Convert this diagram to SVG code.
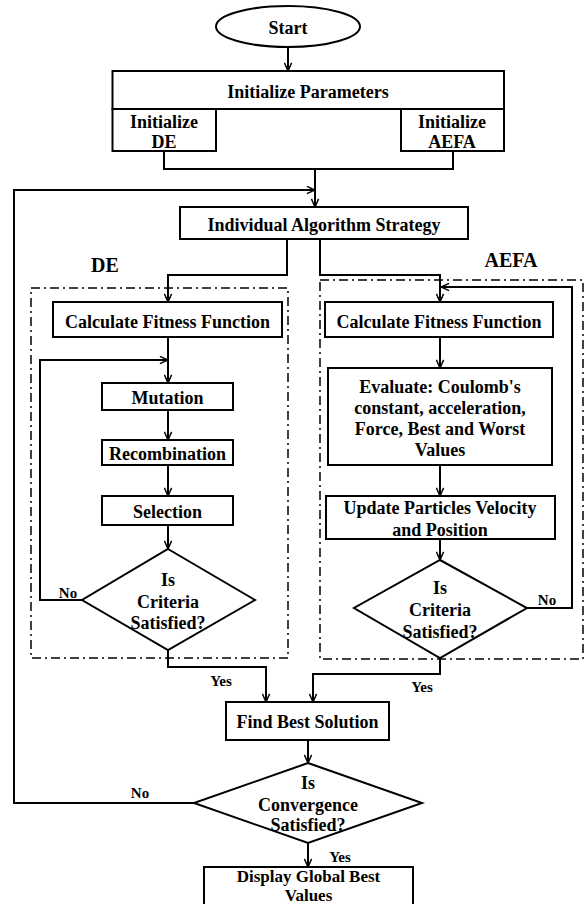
<svg xmlns="http://www.w3.org/2000/svg" width="585" height="904" viewBox="0 0 585 904">
<style>
text{font-family:"Liberation Serif","Times New Roman",serif;font-weight:bold;font-size:18px;text-anchor:middle;fill:#000}
.lbl{font-size:20px}
.yn{font-size:15px}
.sm{font-size:17px}
.box{fill:#fff;stroke:#000;stroke-width:2}
.dash{fill:none;stroke:#000;stroke-width:1.5;stroke-dasharray:9,4,2,4}
.ln{fill:none;stroke:#000;stroke-width:2}
.arr{fill:none;stroke:#000;stroke-width:2;marker-end:url(#ah)}
</style>
<defs>
<marker id="ah" viewBox="0 0 10 10" refX="10" refY="5" markerWidth="9" markerHeight="9" markerUnits="userSpaceOnUse" orient="auto">
<path d="M1,1 L10,5 L1,9" fill="none" stroke="#000" stroke-width="1.6"/>
</marker>
</defs>
<rect width="585" height="904" fill="#fff"/>
<g id="groups">
<rect class="dash" x="31" y="288" width="257" height="370"/>
<rect class="dash" x="320" y="280" width="263" height="379"/>
<text class="lbl" x="105" y="272">DE</text>
<text class="lbl" x="511" y="267">AEFA</text>
</g>
<g id="connectors">
<line class="arr" x1="288" y1="47" x2="288" y2="71"/>
<polyline class="ln" points="164,151 164,169 453,169 453,151"/>
<line class="arr" x1="315" y1="169" x2="315" y2="207"/>
<polyline class="arr" points="194,803 14,803 14,190 315,190"/>
<polyline class="arr" points="287,239 287,275 168,275 168,302"/>
<polyline class="arr" points="320,239 320,275 440,275 440,302"/>
<line class="arr" x1="168" y1="337" x2="168" y2="383"/>
<polyline class="arr" points="82,600 40,600 40,360 168,360"/>
<line class="arr" x1="168" y1="410" x2="168" y2="440"/>
<line class="arr" x1="168" y1="465" x2="168" y2="496"/>
<line class="arr" x1="168" y1="525" x2="168" y2="549"/>
<line class="arr" x1="440" y1="337" x2="440" y2="368"/>
<line class="arr" x1="440" y1="465" x2="440" y2="496"/>
<line class="arr" x1="440" y1="539" x2="440" y2="560"/>
<polyline class="arr" points="527,608 572,608 572,287 441,287"/>
<polyline class="arr" points="168,650 168,667 266,667 266,702"/>
<polyline class="arr" points="440,658 440,674 313,674 313,702"/>
<line class="arr" x1="308" y1="740" x2="308" y2="763"/>
<line class="arr" x1="308" y1="843" x2="308" y2="867"/>
<text class="yn" x="68" y="598">No</text>
<text class="yn" x="547" y="605">No</text>
<text class="yn" x="221" y="686">Yes</text>
<text class="yn" x="422" y="692">Yes</text>
<text class="yn" x="140" y="798">No</text>
<text class="yn" x="340" y="862">Yes</text>
</g>
<g id="start">
<ellipse class="box" cx="288" cy="26.5" rx="72" ry="20.5"/>
<text x="288" y="34">Start</text>
</g>
<g id="init-params">
<rect class="box" x="112.5" y="71" width="391.5" height="38"/>
<text x="308" y="98">Initialize Parameters</text>
</g>
<g id="init-de">
<rect class="box" x="112.5" y="109" width="103.5" height="42"/>
<text x="164" y="128">Initialize</text>
<text x="164" y="148">DE</text>
</g>
<g id="init-aefa">
<rect class="box" x="401" y="109" width="103" height="42"/>
<text x="452" y="128">Initialize</text>
<text x="452" y="148">AEFA</text>
</g>
<g id="strategy">
<rect class="box" x="180" y="207" width="288" height="32"/>
<text x="324" y="231">Individual Algorithm Strategy</text>
</g>
<g id="de-fitness">
<rect class="box" x="53" y="302" width="229" height="35"/>
<text x="167.5" y="328">Calculate Fitness Function</text>
</g>
<g id="mutation">
<rect class="box" x="102" y="383" width="131" height="27"/>
<text x="167.5" y="404">Mutation</text>
</g>
<g id="recombination">
<rect class="box" x="102" y="440" width="131" height="25"/>
<text x="167.5" y="460">Recombination</text>
</g>
<g id="selection">
<rect class="box" x="102" y="496" width="131" height="29"/>
<text x="167.5" y="518">Selection</text>
</g>
<g id="de-criteria">
<polygon class="box" points="168,549 255,600 168,650 82,600"/>
<text x="168" y="586">Is</text>
<text x="168" y="608">Criteria</text>
<text x="168" y="629">Satisfied?</text>
</g>
<g id="aefa-fitness">
<rect class="box" x="325" y="302" width="228" height="35"/>
<text x="439" y="328">Calculate Fitness Function</text>
</g>
<g id="evaluate">
<rect class="box" x="328" y="368" width="224" height="97"/>
<text x="440" y="393">Evaluate: Coulomb's</text>
<text x="440" y="414">constant, acceleration,</text>
<text x="440" y="435">Force, Best and Worst</text>
<text x="440" y="456">Values</text>
</g>
<g id="update">
<rect class="box" x="326" y="496" width="229" height="43"/>
<text x="440" y="514">Update Particles Velocity</text>
<text x="440" y="536">and Position</text>
</g>
<g id="aefa-criteria">
<polygon class="box" points="440,560 527,608 440,658 354,608"/>
<text x="440" y="594">Is</text>
<text x="440" y="616">Criteria</text>
<text x="440" y="638">Satisfied?</text>
</g>
<g id="find-best">
<rect class="box" x="226" y="702" width="163" height="38"/>
<text x="307.5" y="728">Find Best Solution</text>
</g>
<g id="convergence">
<polygon class="box" points="308,763 422,803 308,843 194,803"/>
<text x="308" y="789">Is</text>
<text x="308" y="811">Convergence</text>
<text x="308" y="831">Satisfied?</text>
</g>
<g id="display">
<rect class="box" x="204" y="867" width="209" height="45"/>
<text class="sm" x="308.5" y="882">Display Global Best</text>
<text class="sm" x="308.5" y="901">Values</text>
</g>
</svg>
